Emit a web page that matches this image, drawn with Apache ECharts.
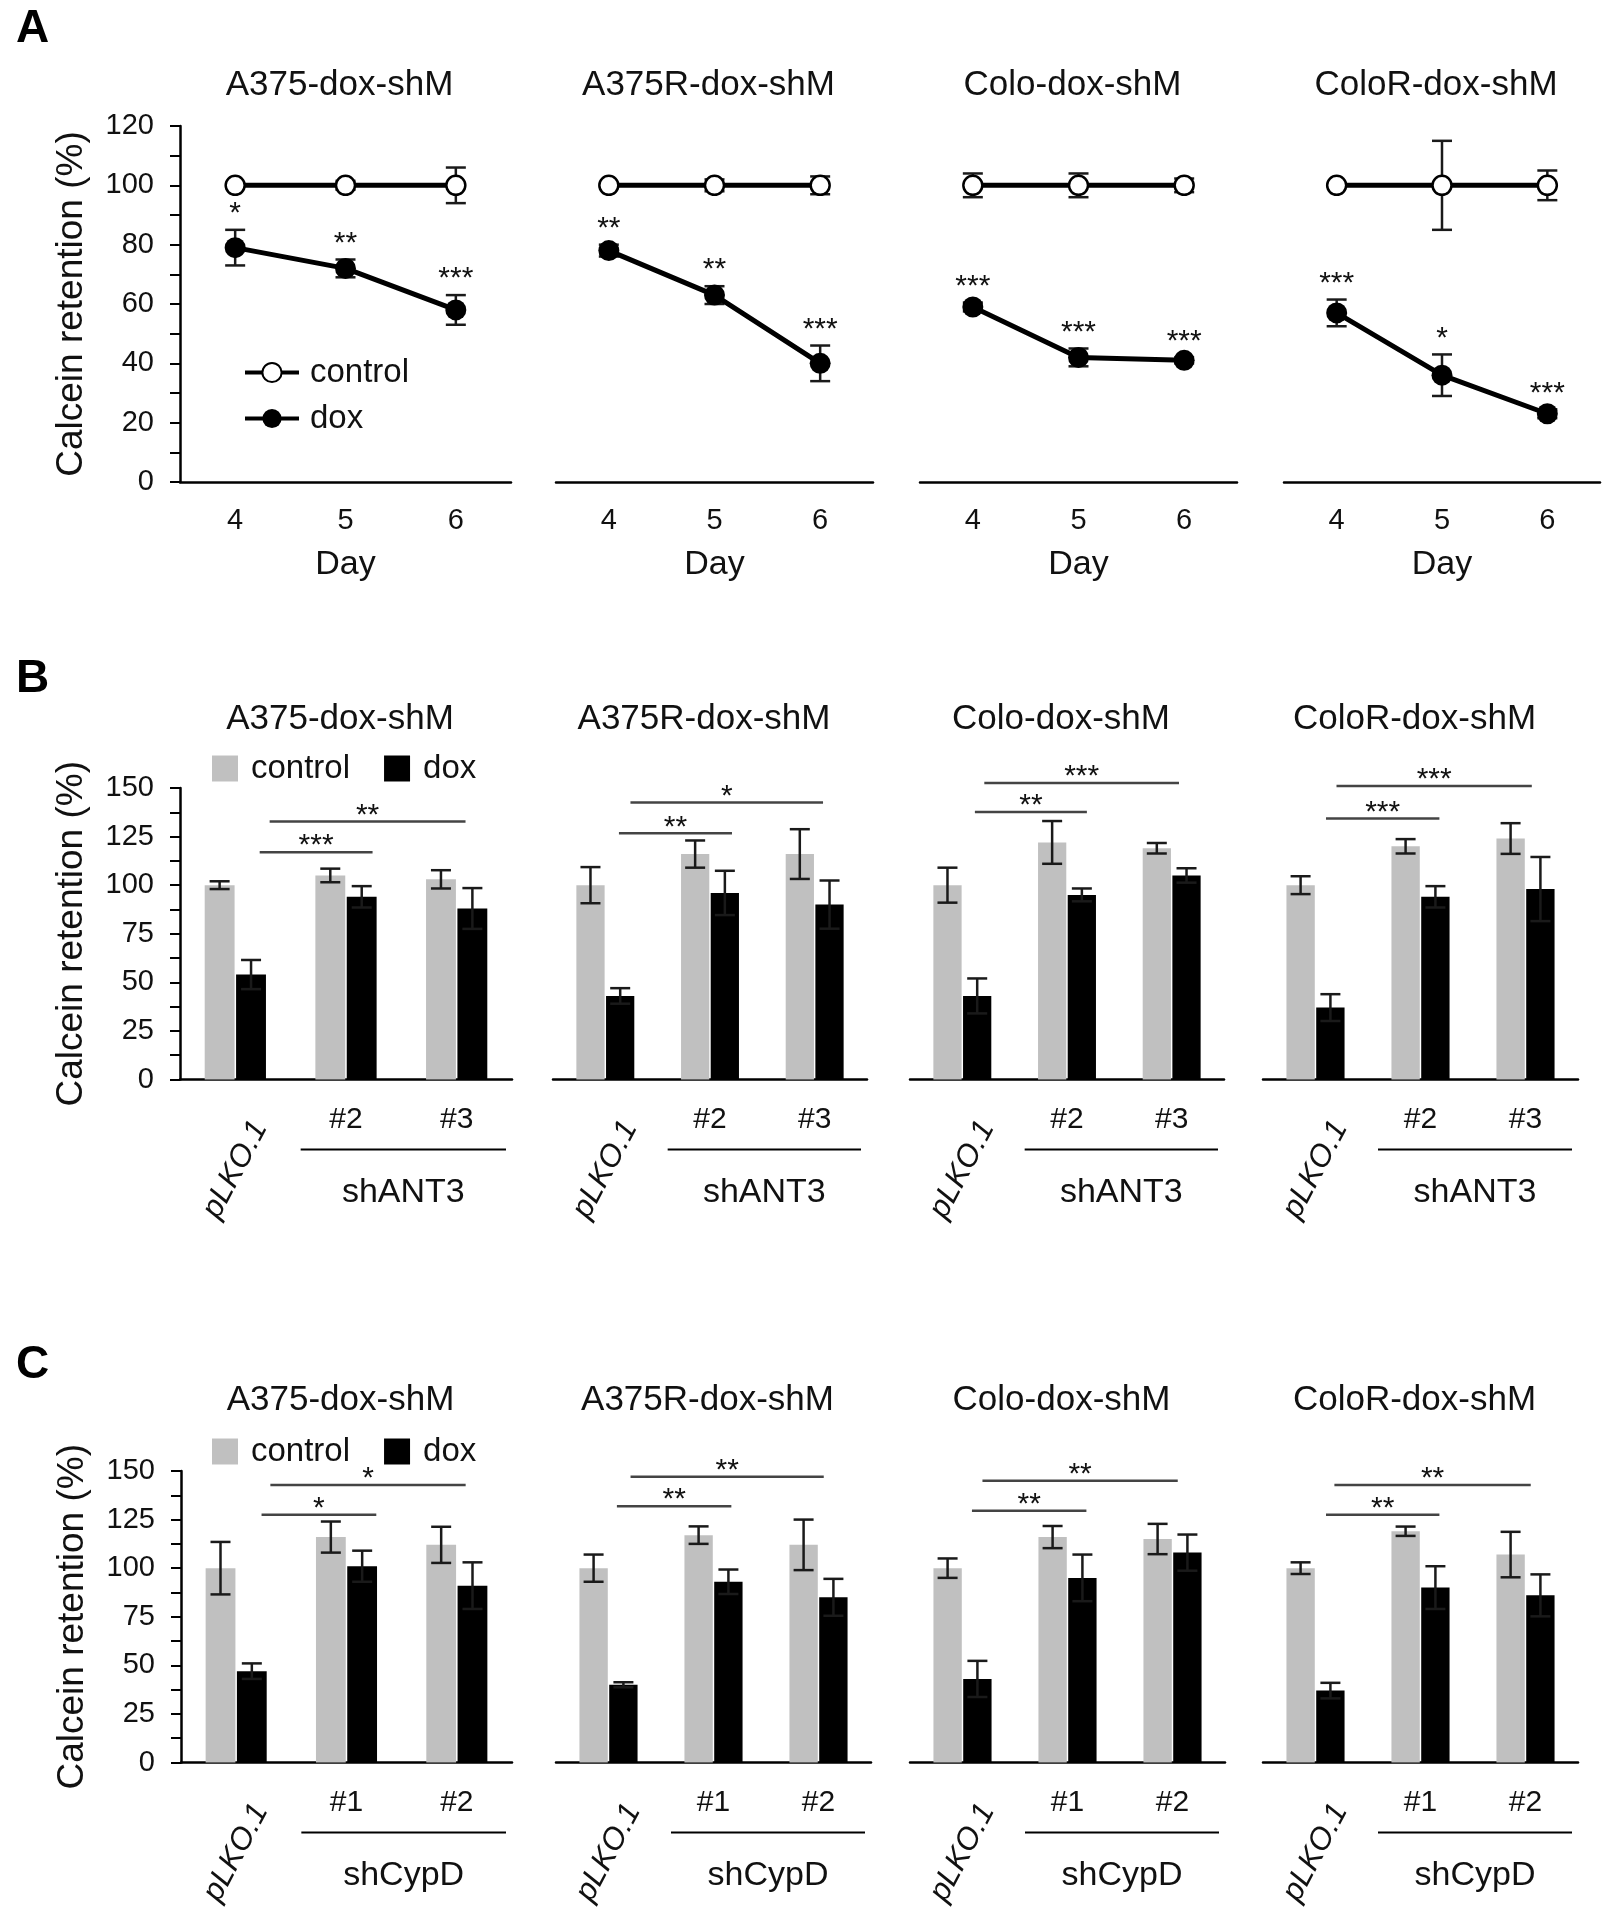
<!DOCTYPE html>
<html>
<head>
<meta charset="utf-8">
<script src="https://cdn.jsdelivr.net/npm/echarts@6/dist/echarts.min.js"></script>
<style>
html, body { margin: 0; background: #fff; }
#main { width: 1620px; height: 1920px; }
</style>
</head>
<body>
<div id="main"></div>
<script>
// ---- data ----
var cellLines = ['A375-dox-shM', 'A375R-dox-shM', 'Colo-dox-shM', 'ColoR-dox-shM'];
var days = ['4', '5', '6'];
var ant3Groups = ['pLKO.1', '#2', '#3'];
var cypdGroups = ['pLKO.1', '#1', '#2'];

// A: calcein retention over days
var aControl = [[100, 100, 100], [100, 100, 100], [100, 100, 100], [100, 100, 100]];
var aControlErr = [[0.5, 1.5, 6], [0.5, 2, 3], [4, 4, 2.3], [0.5, 15, 5]];
var aDox = [[79, 72, 58], [78, 63, 40], [59, 42, 41], [57, 36, 23]];
var aDoxErr = [[6, 3, 5], [2, 3, 6], [1.5, 3, 1], [4.5, 7, 1.5]];
var aStars = [['*', '**', '***'], ['**', '**', '***'], ['***', '***', '***'], ['***', '*', '***']];

// B: shANT3
var bControl = [[100, 105, 103], [100, 116, 116], [100, 122, 119], [100, 120, 124]];
var bControlErr = [[2, 3.5, 4.7], [9.3, 7, 12.8], [9, 11, 2.7], [4.6, 3.7, 7.9]];
var bDox = [[54, 94, 88], [43, 96, 90], [43, 95, 105], [37, 94, 98]];
var bDoxErr = [[7.5, 5.5, 10.5], [4, 11.4, 12.4], [9, 3.3, 3.7], [6.9, 5.5, 16.5]];
// [from, to (category units), height, stars]
var bBrackets = [
    [[0.22, 1.24, 117, '***'], [0.31, 2.08, 132.7, '**']],
    [[0.13, 1.21, 126.7, '**'], [0.24, 2.08, 142.5, '*']],
    [[0.12, 1.19, 137.6, '**'], [0.21, 2.07, 152.6, '***']],
    [[0.10, 1.18, 134.3, '***'], [0.20, 2.06, 151, '***']]
];

// C: shCypD
var cControl = [[100, 116, 112], [100, 117, 112], [100, 116, 115], [100, 119, 107]];
var cControlErr = [[13.5, 8, 9.3], [7, 4.5, 13], [5, 5.7, 7.8], [3, 2.4, 11.7]];
var cDox = [[47, 101, 91], [40, 93, 85], [43, 95, 108], [37, 90, 86]];
var cDoxErr = [[4, 8, 12], [1.3, 6.3, 9.5], [9.3, 12, 9.3], [4, 11, 10.8]];
var cBrackets = [
    [[0.23, 1.27, 127.5, '*'], [0.31, 2.08, 142.8, '*']],
    [[0.08, 1.17, 131.9, '**'], [0.21, 2.05, 147.1, '**']],
    [[0.09, 1.18, 129.6, '**'], [0.19, 2.05, 145, '**']],
    [[0.10, 1.18, 127.5, '**'], [0.18, 2.05, 142.8, '**']]
];

// ---- layout ----
var FONT = '"Liberation Sans", Arial, sans-serif';
var INK = '#111';
var GREY = '#c0c0c0';

var rows = {
    A: {top: 126, height: 356, lefts: [180, 556, 920, 1284], widths: [331, 317, 317, 316], titleTop: 68},
    B: {top: 788, height: 291.5, lefts: [180, 553, 910, 1263], widths: [332, 314, 314, 315], titleTop: 702},
    C: {top: 1471, height: 291.5, lefts: [181, 556, 910, 1263], widths: [331, 315, 315, 315], titleTop: 1383}
};

var option = {
    backgroundColor: '#fff',
    animation: false,
    textStyle: {fontFamily: FONT, color: INK},
    title: [],
    legend: [],
    grid: [],
    xAxis: [],
    yAxis: [],
    series: [],
    graphic: []
};

var axisLineStyle = {show: true, onZero: false, lineStyle: {color: '#000', width: 2.5}};

function yAxisFor(g, max, step, show) {
    return {
        gridIndex: g,
        type: 'value',
        min: 0,
        max: max,
        interval: step,
        show: show,
        axisLine: axisLineStyle,
        axisTick: {show: true, length: 10, lineStyle: {color: '#000', width: 2}},
        minorTick: {show: true, splitNumber: 2, length: 10, lineStyle: {color: '#000', width: 2}},
        splitLine: {show: false},
        axisLabel: {fontSize: 29, color: INK, margin: 26, fontFamily: FONT},
        name: 'Calcein retention (%)',
        nameLocation: 'middle',
        nameGap: 90,
        nameTextStyle: {fontSize: 37, color: INK, fontFamily: FONT}
    };
}

// error bar: data [cat, low, high]
function errorBars(xi, yi, vals, errs, shift, z) {
    return {
        type: 'custom',
        xAxisIndex: xi,
        yAxisIndex: yi,
        silent: true,
        z: z,
        data: vals.map(function (v, i) { return [i, v - errs[i], v + errs[i]]; }),
        renderItem: function (params, api) {
            var band = api.size([1, 0])[0];
            var lo = api.coord([api.value(0), api.value(1)]);
            var hi = api.coord([api.value(0), api.value(2)]);
            var x = lo[0] + shift * band;
            var w = 10;
            var st = {stroke: '#1a1a1a', lineWidth: 2.5};
            return {
                type: 'group',
                children: [
                    {type: 'line', shape: {x1: x, y1: lo[1], x2: x, y2: hi[1]}, style: st},
                    {type: 'line', shape: {x1: x - w, y1: hi[1], x2: x + w, y2: hi[1]}, style: st},
                    {type: 'line', shape: {x1: x - w, y1: lo[1], x2: x + w, y2: lo[1]}, style: st}
                ]
            };
        }
    };
}

function starLabels(xi, yi, vals, errs, stars) {
    return {
        type: 'custom',
        xAxisIndex: xi,
        yAxisIndex: yi,
        silent: true,
        z: 5,
        data: vals.map(function (v, i) { return [i, v + errs[i]]; }),
        renderItem: function (params, api) {
            var p = api.coord([api.value(0), api.value(1)]);
            return {
                type: 'text',
                x: p[0],
                y: p[1] - 16,
                style: {text: stars[params.dataIndex], fill: INK, font: '30px ' + FONT, align: 'center', verticalAlign: 'middle'}
            };
        }
    };
}

function brackets(xi, yi, list) {
    return {
        type: 'custom',
        xAxisIndex: xi,
        yAxisIndex: yi,
        silent: true,
        clip: false,
        z: 5,
        data: list.map(function (b) { return [0, b[2], b[0], b[1]]; }),
        renderItem: function (params, api) {
            var band = api.size([1, 0])[0];
            var p = api.coord([0, api.value(1)]);
            var x1 = p[0] + api.value(2) * band;
            var x2 = p[0] + api.value(3) * band;
            return {
                type: 'group',
                children: [
                    {type: 'line', shape: {x1: x1, y1: p[1], x2: x2, y2: p[1]}, style: {stroke: '#444', lineWidth: 2.5}},
                    {type: 'text', x: (x1 + x2) / 2, y: p[1] - 6,
                        style: {text: list[params.dataIndex][3], fill: INK, font: '30px ' + FONT, align: 'center', verticalAlign: 'middle'}}
                ]
            };
        }
    };
}

function addTitle(text, cx, top) {
    option.title.push({
        text: text, left: cx, top: top, textAlign: 'center', padding: 0,
        textStyle: {fontSize: 35, fontWeight: 'normal', color: INK, fontFamily: FONT}
    });
}

// ---- panel A: line charts ----
rows.A.lefts.forEach(function (left, k) {
    var r = rows.A;
    var g = option.grid.length;
    option.grid.push({left: left, top: r.top, width: r.widths[k], height: r.height});
    var xi = option.xAxis.length;
    option.xAxis.push({
        gridIndex: g, type: 'category', data: days, boundaryGap: true,
        axisLine: axisLineStyle,
        axisTick: {alignWithLabel: true, length: 9, lineStyle: {color: '#000', width: 2}},
        axisLabel: {fontSize: 29, color: INK, margin: 24, fontFamily: FONT},
        name: 'Day', nameLocation: 'middle', nameGap: 66,
        nameTextStyle: {fontSize: 34, color: INK, fontFamily: FONT}
    });
    var yi = option.yAxis.length;
    option.yAxis.push(yAxisFor(g, 120, 20, k === 0));

    option.series.push(errorBars(xi, yi, aControl[k], aControlErr[k], 0, 1));
    option.series.push(errorBars(xi, yi, aDox[k], aDoxErr[k], 0, 1));
    option.series.push({
        name: 'control', type: 'line', xAxisIndex: xi, yAxisIndex: yi, z: 3,
        data: aControl[k], symbol: 'circle', symbolSize: 19,
        lineStyle: {color: '#000', width: 5},
        itemStyle: {color: '#fff', borderColor: '#000', borderWidth: 2.5}
    });
    option.series.push({
        name: 'dox', type: 'line', xAxisIndex: xi, yAxisIndex: yi, z: 3,
        data: aDox[k], symbol: 'circle', symbolSize: 21,
        lineStyle: {color: '#000', width: 5},
        itemStyle: {color: '#000', borderColor: '#000', borderWidth: 0}
    });
    option.series.push(starLabels(xi, yi, aDox[k], aDoxErr[k], aStars[k]));
    addTitle(cellLines[k], left + r.widths[k] / 2 - 6, r.titleTop);
});

option.legend.push({
    data: ['control', 'dox'],
    orient: 'vertical', left: 243, top: 356, padding: 0,
    itemWidth: 54, itemHeight: 24, itemGap: 13, selectedMode: false,
    lineStyle: {width: 4, color: '#000'},
    textStyle: {fontSize: 33, color: INK, fontFamily: FONT, padding: [0, 0, 0, 6]}
});

// ---- panels B and C: bar charts ----
function barRow(row, cats, groupName, ctrl, ctrlErr, dox, doxErr, brk) {
    var r = rows[row];
    r.lefts.forEach(function (left, k) {
        var W = r.widths[k];
        var g = option.grid.length;
        option.grid.push({left: left, top: r.top, width: W, height: r.height});
        var xi = option.xAxis.length;
        option.xAxis.push({
            gridIndex: g, type: 'category', data: cats, boundaryGap: true, position: 'bottom',
            axisLine: axisLineStyle,
            axisTick: {length: 11, lineStyle: {color: '#000', width: 2}},
            axisLabel: {
                fontSize: 30, color: INK, margin: 25, fontFamily: FONT,
                formatter: function (v, i) { return i === 0 ? '' : v; }
            }
        });
        // second axis only carries the tilted vector label
        option.xAxis.push({
            gridIndex: g, type: 'category', data: cats, boundaryGap: true, position: 'bottom',
            axisLine: {show: false}, axisTick: {show: false},
            axisLabel: {
                fontSize: 31, color: INK, margin: 90, rotate: 62, fontStyle: 'italic', fontFamily: FONT,
                align: 'center', verticalAlign: 'middle',
                formatter: function (v, i) { return i === 0 ? v : ''; }
            }
        });
        var yi = option.yAxis.length;
        option.yAxis.push(yAxisFor(g, 150, 25, k === 0));

        option.series.push({
            name: 'control', type: 'bar', xAxisIndex: xi, yAxisIndex: yi,
            data: ctrl[k], barWidth: '27%', barGap: '5%', itemStyle: {color: GREY}
        });
        option.series.push({
            name: 'dox', type: 'bar', xAxisIndex: xi, yAxisIndex: yi,
            data: dox[k], barWidth: '27%', barGap: '5%', itemStyle: {color: '#000'}
        });
        option.series.push(errorBars(xi, yi, ctrl[k], ctrlErr[k], -0.142, 4));
        option.series.push(errorBars(xi, yi, dox[k], doxErr[k], 0.142, 4));
        option.series.push(brackets(xi, yi, brk[k]));
        addTitle(cellLines[k], left + W / 2 - 6, r.titleTop);

        // group bracket under the two hairpins
        var band = W / 3;
        var axisY = r.top + r.height;
        option.graphic.push({
            type: 'line', silent: true,
            shape: {x1: left + band + 10, y1: axisY + 70, x2: left + W - 6, y2: axisY + 70},
            style: {stroke: '#000', lineWidth: 2}
        });
        option.graphic.push({
            type: 'text', silent: true, x: left + band * 2 + 2, y: axisY + 113,
            style: {text: groupName, fill: INK, font: '34px ' + FONT, align: 'center', verticalAlign: 'middle'}
        });
    });
    option.legend.push({
        data: [
            {name: 'control', icon: 'rect', itemStyle: {color: GREY, borderWidth: 0}},
            {name: 'dox', icon: 'rect', itemStyle: {color: '#000', borderWidth: 0}}
        ],
        orient: 'horizontal', left: 212, top: r.top - 36, padding: 0,
        itemWidth: 26, itemHeight: 26, itemGap: 34, selectedMode: false,
        textStyle: {fontSize: 33, color: INK, fontFamily: FONT, padding: [0, 0, 0, 8]}
    });
}

barRow('B', ant3Groups, 'shANT3', bControl, bControlErr, bDox, bDoxErr, bBrackets);
barRow('C', cypdGroups, 'shCypD', cControl, cControlErr, cDox, cDoxErr, cBrackets);

// panel letters
[['A', 6], ['B', 656], ['C', 1342]].forEach(function (p) {
    option.title.push({
        text: p[0], left: 16, top: p[1], padding: 0,
        textStyle: {fontSize: 46, fontWeight: 'bold', color: '#000', fontFamily: FONT}
    });
});

var myChart = echarts.init(document.getElementById('main'));
myChart.setOption(option);
</script>
</body>
</html>
